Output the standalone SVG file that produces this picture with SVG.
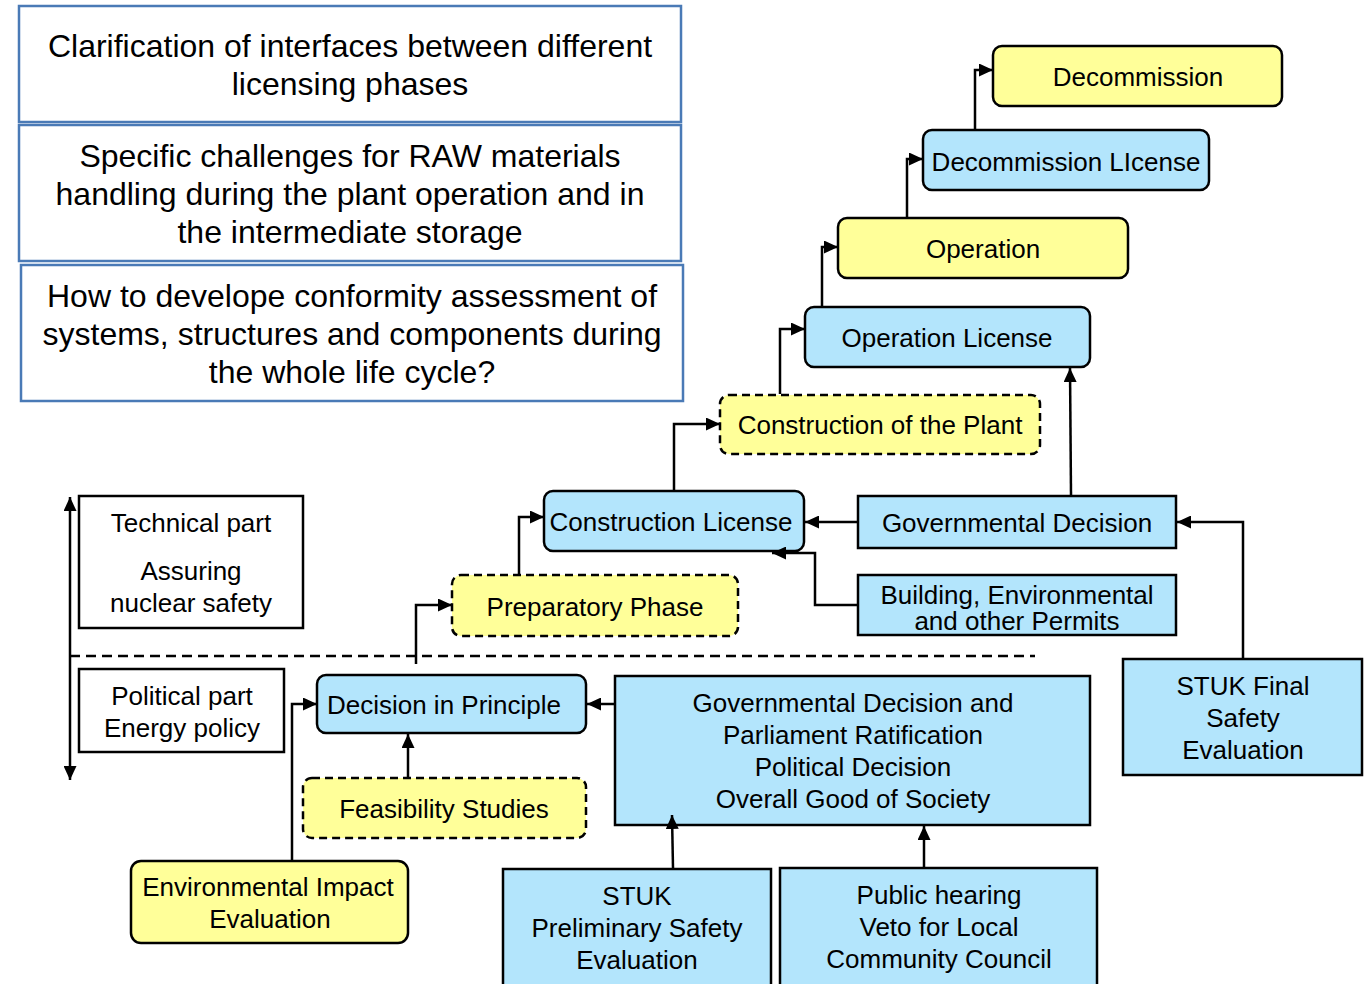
<svg xmlns="http://www.w3.org/2000/svg" width="1368" height="984" viewBox="0 0 1368 984">
<style>
text{font-family:"Liberation Sans",Arial,sans-serif;fill:#000;text-anchor:middle}
.t32{font-size:32px}
.t26{font-size:26px}
.top{fill:#fff;stroke:#4a7ab6;stroke-width:2.5}
.y{fill:#ffff99;stroke:#000;stroke-width:2.5}
.b{fill:#b3e5fc;stroke:#000;stroke-width:2.5}
.w{fill:#fff;stroke:#000;stroke-width:2.5}
.d{stroke-dasharray:8 5}
.c{fill:none;stroke:#000;stroke-width:2.5;marker-end:url(#ah)}
</style>
<defs>
<marker id="ah" markerUnits="userSpaceOnUse" markerWidth="15" markerHeight="13" refX="14" refY="6.5" orient="auto-start-reverse"><path d="M0,0 L14,6.5 L0,13 z" fill="#000"/></marker>
</defs>
<rect width="1368" height="984" fill="#fff"/>

<g id="top1"><rect class="top" x="19" y="6" width="662" height="116"/>
<text class="t32" x="350" y="57">Clarification of interfaces between different</text>
<text class="t32" x="350" y="95">licensing phases</text></g>
<g id="top2"><rect class="top" x="19" y="125" width="662" height="136"/>
<text class="t32" x="350" y="167">Specific challenges for RAW materials</text>
<text class="t32" x="350" y="205">handling during the plant operation and in</text>
<text class="t32" x="350" y="243">the intermediate storage</text></g>
<g id="top3"><rect class="top" x="21" y="265" width="662" height="136"/>
<text class="t32" x="352" y="307">How to develope conformity assessment of</text>
<text class="t32" x="352" y="345">systems, structures and components during</text>
<text class="t32" x="352" y="383">the whole life cycle?</text></g>

<g id="decommission"><rect class="y" x="993" y="46" width="289" height="60" rx="9"/>
<text class="t26" x="1138" y="86">Decommission</text></g>
<g id="decommission-license"><rect class="b" x="923" y="130" width="286" height="60" rx="9"/>
<text class="t26" x="1066" y="171">Decommission LIcense</text></g>
<g id="operation"><rect class="y" x="838" y="218" width="290" height="60" rx="9"/>
<text class="t26" x="983" y="258">Operation</text></g>
<g id="operation-license"><rect class="b" x="805" y="307" width="285" height="60" rx="9"/>
<text class="t26" x="947" y="347">Operation License</text></g>
<g id="construction-plant"><rect class="y d" x="720" y="395" width="320" height="59" rx="9"/>
<text class="t26" x="880" y="434">Construction of the Plant</text></g>
<g id="construction-license"><rect class="b" x="544" y="491" width="260" height="60" rx="9"/>
<text class="t26" x="671" y="531">Construction License</text></g>
<g id="gov-decision"><rect class="b" x="858" y="496" width="318" height="52"/>
<text class="t26" x="1017" y="532">Governmental Decision</text></g>
<g id="permits"><rect class="b" x="858" y="575" width="318" height="60"/>
<text class="t26" x="1017" y="604">Building, Environmental</text>
<text class="t26" x="1017" y="630">and other Permits</text></g>
<g id="preparatory"><rect class="y d" x="452" y="575" width="286" height="61" rx="9"/>
<text class="t26" x="595" y="616">Preparatory Phase</text></g>
<g id="technical"><rect class="w" x="79" y="496" width="224" height="132"/>
<text class="t26" x="191" y="532">Technical part</text>
<text class="t26" x="191" y="580">Assuring</text>
<text class="t26" x="191" y="612">nuclear safety</text></g>
<g id="political"><rect class="w" x="79" y="669" width="205" height="83"/>
<text class="t26" x="182" y="705">Political part</text>
<text class="t26" x="182" y="737">Energy policy</text></g>
<g id="decision-principle"><rect class="b" x="317" y="675" width="269" height="58" rx="9"/>
<text class="t26" x="444" y="714">Decision in Principle</text></g>
<g id="feasibility"><rect class="y d" x="303" y="778" width="283" height="60" rx="9"/>
<text class="t26" x="444" y="818">Feasibility Studies</text></g>
<g id="gov-parliament"><rect class="b" x="615" y="676" width="475" height="149"/>
<text class="t26" x="853" y="712">Governmental Decision and</text>
<text class="t26" x="853" y="744">Parliament Ratification</text>
<text class="t26" x="853" y="776">Political Decision</text>
<text class="t26" x="853" y="808">Overall Good of Society</text></g>
<g id="stuk-final"><rect class="b" x="1123" y="659" width="239" height="116"/>
<text class="t26" x="1243" y="695">STUK Final</text>
<text class="t26" x="1243" y="727">Safety</text>
<text class="t26" x="1243" y="759">Evaluation</text></g>
<g id="env-impact"><rect class="y" x="131" y="861" width="277" height="82" rx="10"/>
<text class="t26" x="268" y="896">Environmental Impact</text>
<text class="t26" x="270" y="928">Evaluation</text></g>
<g id="stuk-prelim"><rect class="b" x="503" y="869" width="268" height="125"/>
<text class="t26" x="637" y="905">STUK</text>
<text class="t26" x="637" y="937">Preliminary Safety</text>
<text class="t26" x="637" y="969">Evaluation</text></g>
<g id="public-hearing"><rect class="b" x="780" y="868" width="317" height="125"/>
<text class="t26" x="939" y="904">Public hearing</text>
<text class="t26" x="939" y="936">Veto for Local</text>
<text class="t26" x="939" y="968">Community Council</text></g>

<g id="connectors">
<path class="c" d="M975,129 V70 H993"/>
<path class="c" d="M907,217 V159 H923"/>
<path class="c" d="M822,306 V247 H838"/>
<path class="c" d="M780,394 V329 H805"/>
<path class="c" d="M674,490 V424 H720"/>
<path class="c" d="M519,574 V517 H544"/>
<path class="c" d="M416,664 V605 H452"/>
<path class="c" d="M857,522 H805"/>
<path class="c" d="M1071,495 L1070,368"/>
<path class="c" d="M1243,658 V522 H1177"/>
<path class="c" d="M857,605 H815 V553 H772"/>
<path class="c" d="M614,704 H587"/>
<path class="c" d="M408,777 V734"/>
<path class="c" d="M292,860 V704 H317"/>
<path class="c" d="M673,868 L672,815"/>
<path class="c" d="M924,867 V826"/>
<path class="c" d="M70,780 V497" style="marker-start:url(#ah)"/>
<path d="M70,656 H1035" fill="none" stroke="#000" stroke-width="2.5" stroke-dasharray="10 6"/>
</g>
</svg>
